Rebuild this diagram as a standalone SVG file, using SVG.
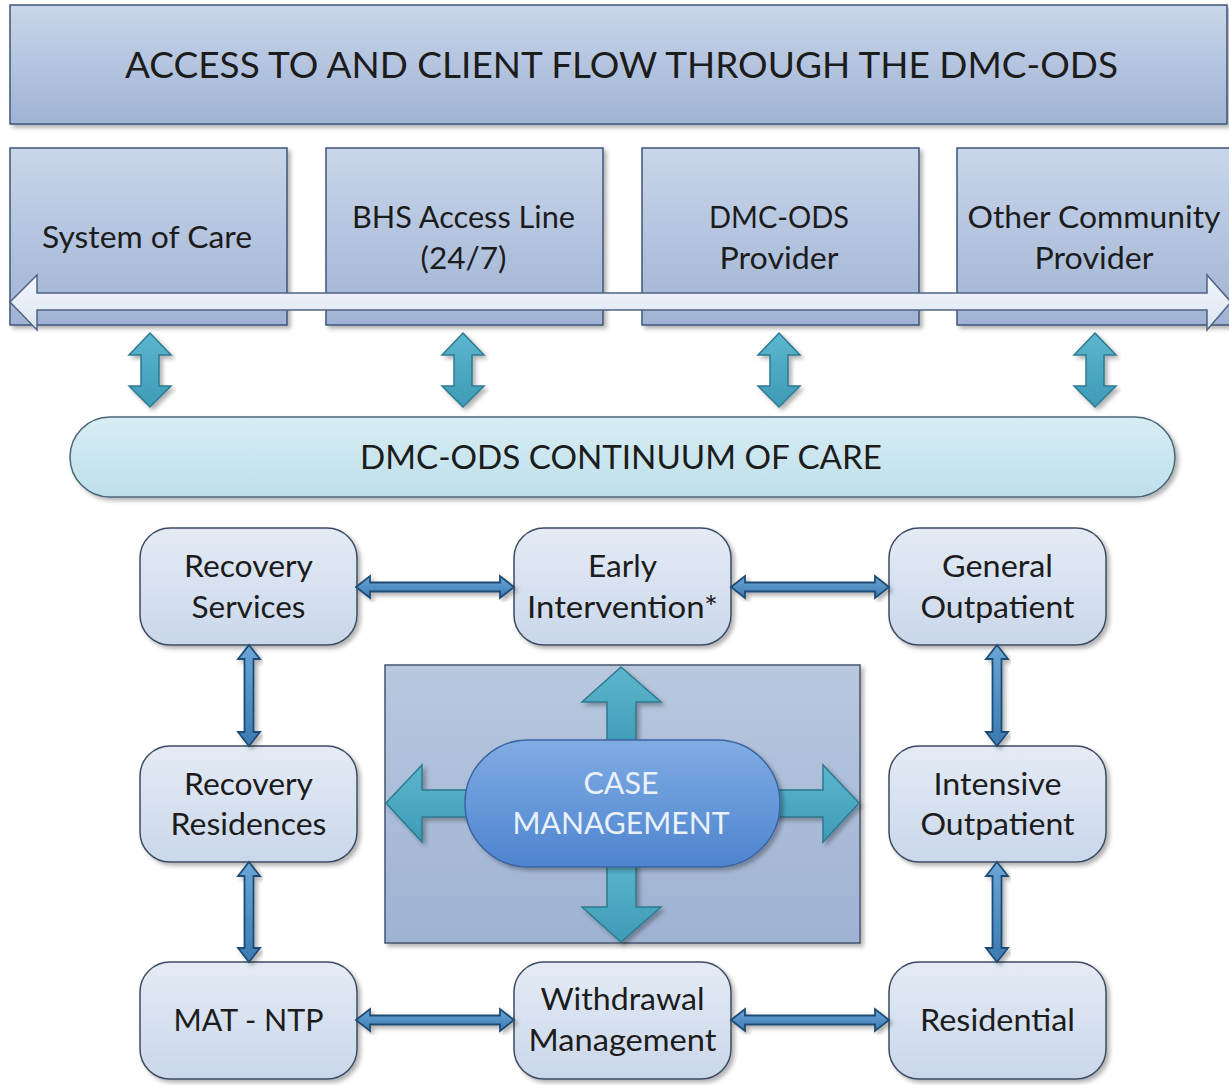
<svg xmlns="http://www.w3.org/2000/svg" width="1229" height="1085" viewBox="0 0 1229 1085">
<defs>
<linearGradient id="boxGrad" x1="0" y1="0" x2="0" y2="1"><stop offset="0" stop-color="#c9d6ea"/><stop offset="1" stop-color="#a0b3d4"/></linearGradient>
<linearGradient id="contGrad" x1="0" y1="0" x2="0" y2="1"><stop offset="0" stop-color="#d8edf4"/><stop offset="1" stop-color="#bddfea"/></linearGradient>
<linearGradient id="nodeGrad" x1="0" y1="0" x2="0" y2="1"><stop offset="0" stop-color="#e4ebf5"/><stop offset="1" stop-color="#cad7ea"/></linearGradient>
<linearGradient id="centerGrad" x1="0" y1="0" x2="0" y2="1"><stop offset="0" stop-color="#b9c8df"/><stop offset="1" stop-color="#9eb2d2"/></linearGradient>
<linearGradient id="pillGrad" x1="0" y1="0" x2="0" y2="1"><stop offset="0" stop-color="#80ace3"/><stop offset="1" stop-color="#4e84cf"/></linearGradient>
<linearGradient id="tealGrad" x1="0" y1="0" x2="0" y2="1"><stop offset="0" stop-color="#5cb6cd"/><stop offset="1" stop-color="#3e9bb6"/></linearGradient>
<linearGradient id="whiteGrad" x1="0" y1="0" x2="0" y2="1"><stop offset="0" stop-color="#f2f6fb"/><stop offset="1" stop-color="#dce5f2"/></linearGradient>
<linearGradient id="smallGrad" x1="0" y1="0" x2="0" y2="1"><stop offset="0" stop-color="#6aa6d6"/><stop offset="1" stop-color="#3b7ab2"/></linearGradient>
<filter id="shadow" x="-5%" y="-5%" width="115%" height="120%"><feDropShadow dx="3" dy="3" stdDeviation="2" flood-color="#000" flood-opacity="0.3"/></filter>
<style>
.box{fill:url(#boxGrad);stroke:#3f5578;stroke-width:1.5;filter:url(#shadow)}
.cont{fill:url(#contGrad);stroke:#4b6678;stroke-width:1.5;filter:url(#shadow)}
.node{fill:url(#nodeGrad);stroke:#3d4c62;stroke-width:1.5;filter:url(#shadow)}
.center{fill:url(#centerGrad);stroke:#45546c;stroke-width:1.5;filter:url(#shadow)}
.pill{fill:url(#pillGrad);stroke:#3a64a0;stroke-width:1.5;filter:url(#shadow)}
.teal{fill:url(#tealGrad);stroke:#2d7a90;stroke-width:1.5;filter:url(#shadow)}
.wide{fill:url(#whiteGrad);stroke:#4f6382;stroke-width:1.5}
.small{fill:url(#smallGrad);stroke:#1f4b74;stroke-width:1.8;filter:url(#shadow)}
text{font-family:Lato,"Liberation Sans",sans-serif;fill:#1c1c1c;text-anchor:middle}
.t28{font-size:30px}
.title{font-size:37px}
.ct{font-size:33px}
.cm{font-size:30px;fill:#e9f1fb}
</style>
</defs>
<rect width="1229" height="1085" fill="#ffffff"/>

<g id="title">
<rect class="box" x="10" y="5" width="1217" height="119"/>
<text class="title" x="621.5" y="78" textLength="993" lengthAdjust="spacingAndGlyphs">ACCESS TO AND CLIENT FLOW THROUGH THE DMC-ODS</text>
</g>

<g id="system-of-care">
<rect class="box" x="10" y="148" width="277" height="177"/>
<text class="t28" x="147" y="248" textLength="210" lengthAdjust="spacingAndGlyphs">System of Care</text>
</g>
<g id="bhs-access-line">
<rect class="box" x="326" y="148" width="277" height="177"/>
<text class="t28" x="463.5" y="228" textLength="223" lengthAdjust="spacingAndGlyphs">BHS Access Line</text>
<text class="t28" x="463.5" y="269" textLength="86" lengthAdjust="spacingAndGlyphs">(24/7)</text>
</g>
<g id="dmc-ods-provider">
<rect class="box" x="642" y="148" width="277" height="177"/>
<text class="t28" x="779" y="228" textLength="140" lengthAdjust="spacingAndGlyphs">DMC-ODS</text>
<text class="t28" x="779" y="269" textLength="119" lengthAdjust="spacingAndGlyphs">Provider</text>
</g>
<g id="other-community-provider">
<rect class="box" x="957" y="148" width="280" height="177"/>
<text class="t28" x="1094" y="228" textLength="253" lengthAdjust="spacingAndGlyphs">Other Community</text>
<text class="t28" x="1094" y="269" textLength="119" lengthAdjust="spacingAndGlyphs">Provider</text>
</g>

<g id="continuum">
<rect class="cont" x="70" y="417" width="1105" height="80" rx="40" ry="40"/>
<text class="ct" x="621" y="469" textLength="522" lengthAdjust="spacingAndGlyphs">DMC-ODS CONTINUUM OF CARE</text>
</g>

<g id="recovery-services">
<rect class="node" x="140" y="528" width="217" height="117" rx="30" ry="30"/>
<text class="t28" x="248.5" y="577" textLength="129" lengthAdjust="spacingAndGlyphs">Recovery</text>
<text class="t28" x="248.5" y="618" textLength="114" lengthAdjust="spacingAndGlyphs">Services</text>
</g>
<g id="early-intervention">
<rect class="node" x="514" y="528" width="217" height="117" rx="30" ry="30"/>
<text class="t28" x="622.5" y="577" textLength="69" lengthAdjust="spacingAndGlyphs">Early</text>
<text class="t28" x="622.5" y="618" textLength="191" lengthAdjust="spacingAndGlyphs">Intervention*</text>
</g>
<g id="general-outpatient">
<rect class="node" x="889" y="528" width="217" height="117" rx="30" ry="30"/>
<text class="t28" x="997.5" y="577" textLength="111" lengthAdjust="spacingAndGlyphs">General</text>
<text class="t28" x="997.5" y="618" textLength="154" lengthAdjust="spacingAndGlyphs">Outpatient</text>
</g>
<g id="recovery-residences">
<rect class="node" x="140" y="746" width="217" height="116" rx="30" ry="30"/>
<text class="t28" x="248.5" y="795" textLength="129" lengthAdjust="spacingAndGlyphs">Recovery</text>
<text class="t28" x="248.5" y="835" textLength="156" lengthAdjust="spacingAndGlyphs">Residences</text>
</g>
<g id="intensive-outpatient">
<rect class="node" x="889" y="746" width="217" height="116" rx="30" ry="30"/>
<text class="t28" x="997.5" y="795" textLength="128" lengthAdjust="spacingAndGlyphs">Intensive</text>
<text class="t28" x="997.5" y="835" textLength="154" lengthAdjust="spacingAndGlyphs">Outpatient</text>
</g>
<g id="mat-ntp">
<rect class="node" x="140" y="962" width="217" height="117" rx="30" ry="30"/>
<text class="t28" x="248.5" y="1031" textLength="150" lengthAdjust="spacingAndGlyphs">MAT - NTP</text>
</g>
<g id="withdrawal-management">
<rect class="node" x="514" y="962" width="217" height="117" rx="30" ry="30"/>
<text class="t28" x="622.5" y="1010" textLength="164" lengthAdjust="spacingAndGlyphs">Withdrawal</text>
<text class="t28" x="622.5" y="1051" textLength="188" lengthAdjust="spacingAndGlyphs">Management</text>
</g>
<g id="residential">
<rect class="node" x="889" y="962" width="217" height="117" rx="30" ry="30"/>
<text class="t28" x="997.5" y="1031" textLength="155" lengthAdjust="spacingAndGlyphs">Residential</text>
</g>

<g id="case-management-area">
<rect class="center" x="385" y="665" width="475" height="278"/>
</g>

<g id="connectors">
<path class="wide" d="M10,302 L37,275 L37,293 L1207,293 L1207,275 L1231,302 L1207,330 L1207,310 L37,310 L37,330 Z"/>
<path class="teal" d="M150,333 L171,355 L159,355 L159,386 L171,386 L150,407 L129,386 L141,386 L141,355 L129,355 Z"/>
<path class="teal" d="M463,333 L484,355 L472,355 L472,386 L484,386 L463,407 L442,386 L454,386 L454,355 L442,355 Z"/>
<path class="teal" d="M779,333 L800,355 L788,355 L788,386 L800,386 L779,407 L758,386 L770,386 L770,355 L758,355 Z"/>
<path class="teal" d="M1095,333 L1116,355 L1104,355 L1104,386 L1116,386 L1095,407 L1074,386 L1086,386 L1086,355 L1074,355 Z"/>
<path class="small" d="M356,587 L370,576 L370,582.5 L500,582.5 L500,576 L514,587 L500,598 L500,591.5 L370,591.5 L370,598 Z"/>
<path class="small" d="M731,587 L745,576 L745,582.5 L875,582.5 L875,576 L889,587 L875,598 L875,591.5 L745,591.5 L745,598 Z"/>
<path class="small" d="M356,1020 L370,1009 L370,1015.5 L500,1015.5 L500,1009 L514,1020 L500,1031 L500,1024.5 L370,1024.5 L370,1031 Z"/>
<path class="small" d="M731,1020 L745,1009 L745,1015.5 L875,1015.5 L875,1009 L889,1020 L875,1031 L875,1024.5 L745,1024.5 L745,1031 Z"/>
<path class="small" d="M249,645 L260,659 L253.5,659 L253.5,732 L260,732 L249,746 L238,732 L244.5,732 L244.5,659 L238,659 Z"/>
<path class="small" d="M249,862 L260,876 L253.5,876 L253.5,948 L260,948 L249,962 L238,948 L244.5,948 L244.5,876 L238,876 Z"/>
<path class="small" d="M997,645 L1008,659 L1001.5,659 L1001.5,732 L1008,732 L997,746 L986,732 L992.5,732 L992.5,659 L986,659 Z"/>
<path class="small" d="M997,862 L1008,876 L1001.5,876 L1001.5,948 L1008,948 L997,962 L986,948 L992.5,948 L992.5,876 L986,876 Z"/>
<path class="teal" d="M621,667 L661,702 L636,702 L636,750 L607,750 L607,702 L582,702 Z"/>
<path class="teal" d="M621,942 L661,907 L636,907 L636,858 L607,858 L607,907 L582,907 Z"/>
<path class="teal" d="M386,803 L422,765 L422,790 L475,790 L475,817 L422,817 L422,842 Z"/>
<path class="teal" d="M859,803 L823,765 L823,790 L770,790 L770,817 L823,817 L823,842 Z"/>
</g>

<g id="case-management">
<rect class="pill" x="465" y="740" width="315" height="127" rx="63" ry="63"/>
<text class="cm" x="621" y="794" textLength="75" lengthAdjust="spacingAndGlyphs">CASE</text>
<text class="cm" x="621" y="834" textLength="217" lengthAdjust="spacingAndGlyphs">MANAGEMENT</text>
</g>
</svg>
